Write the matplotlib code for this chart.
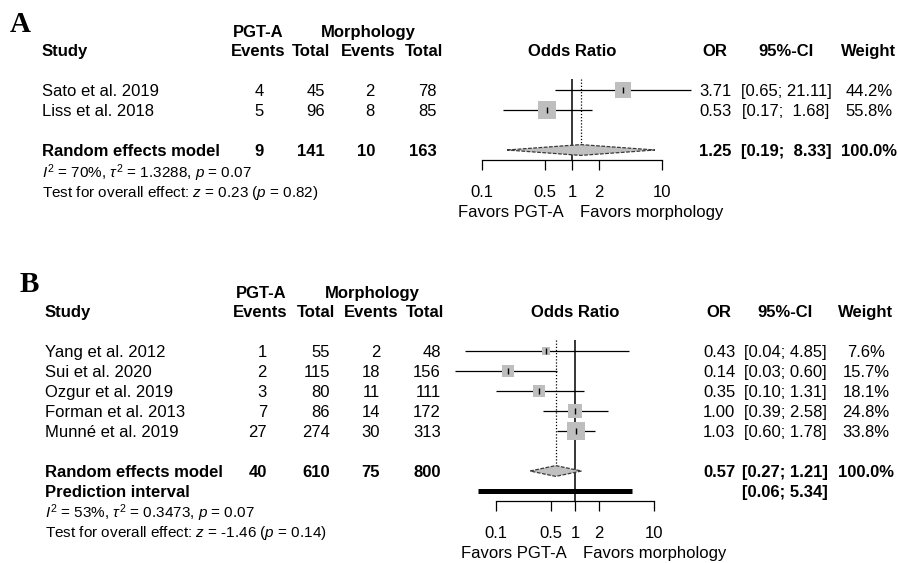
import matplotlib
matplotlib.use("Agg")
import matplotlib.pyplot as plt
from matplotlib import transforms
from matplotlib.patches import Polygon
from matplotlib.ticker import NullLocator

plt.rcParams["font.family"] = ["Liberation Sans", "DejaVu Sans"]
plt.rcParams["mathtext.fontset"] = "custom"
plt.rcParams["mathtext.rm"] = "Liberation Sans"
plt.rcParams["mathtext.it"] = "Liberation Sans:italic"
plt.rcParams["mathtext.bf"] = "Liberation Sans:bold"

# ---------------- Panel A data ----------------
studies_a = ["Sato et al. 2019", "Liss et al. 2018"]
events_pgt_a = [4, 5]
total_pgt_a = [45, 96]
events_mor_a = [2, 8]
total_mor_a = [78, 85]
or_a = [3.71, 0.53]
lower_a = [0.65, 0.17]
upper_a = [21.11, 1.68]
weight_a = [44.2, 55.8]
pooled_a = [1.25, 0.19, 8.33]          # OR, lower, upper
sums_a = [9, 141, 10, 163]
stats_a = ["70%", "1.3288", "0.07", "0.23", "0.82"]   # I2, tau2, p(het), z, p

# ---------------- Panel B data ----------------
studies_b = ["Yang et al. 2012", "Sui et al. 2020", "Ozgur et al. 2019",
             "Forman et al. 2013", "Munné et al. 2019"]
events_pgt_b = [1, 2, 3, 7, 27]
total_pgt_b = [55, 115, 80, 86, 274]
events_mor_b = [2, 18, 11, 14, 30]
total_mor_b = [48, 156, 111, 172, 313]
or_b = [0.43, 0.14, 0.35, 1.00, 1.03]
lower_b = [0.04, 0.03, 0.10, 0.39, 0.60]
upper_b = [4.85, 0.60, 1.31, 2.58, 1.78]
weight_b = [7.6, 15.7, 18.1, 24.8, 33.8]
pooled_b = [0.57, 0.27, 1.21]
prediction_b = [0.06, 5.34]
sums_b = [40, 610, 75, 800]
stats_b = ["53%", "0.3473", "0.07", "-1.46", "0.14"]

tick_values = [0.1, 0.5, 1, 2, 10]
tick_labels = ["0.1", "0.5", "1", "2", "10"]

W, H = 898, 563
fig = plt.figure(figsize=(W / 100, H / 100), dpi=100)
ROW = 20.0   # pixels per table row


def draw_panel(letter, lay, studies, e1, n1, e2, n2, est, lo, hi, wt,
               pooled, sums, stats, pred=None):
    k = len(studies)
    pooled_row = k + 1
    last_row = pooled_row + (1 if pred is not None else 0)
    ybot = last_row + 0.52
    ytop = -0.55
    top_px = lay["row0"] + ytop * ROW
    bot_px = lay["row0"] + ybot * ROW
    ax = fig.add_axes([lay["x01"] / W, 1 - bot_px / H,
                       (lay["x10"] - lay["x01"]) / W, (bot_px - top_px) / H])
    ax.set_xscale("log")
    ax.set_xlim(0.1, 10)
    ax.set_ylim(ybot, ytop)
    ax.patch.set_visible(False)
    for s in ["top", "right", "left"]:
        ax.spines[s].set_visible(False)
    ax.spines["bottom"].set_linewidth(0.9)
    ax.set_yticks([])
    ax.set_xticks(tick_values)
    ax.set_xticklabels(tick_labels)
    ax.xaxis.set_minor_locator(NullLocator())
    ax.tick_params(axis="x", length=7, width=0.9, pad=10.5, labelsize=12)

    def put(xpx, row, s, ha="left", size=12, weight="normal", dy=6):
        tr = transforms.blended_transform_factory(fig.transFigure, ax.transData)
        tr = transforms.offset_copy(tr, fig=fig, x=0, y=-dy, units="dots")
        ax.text(xpx / W, row, s, transform=tr, ha=ha, va="baseline",
                fontsize=size, fontweight=weight, clip_on=False)

    # panel letter
    fig.text(lay["letter"][0] / W, 1 - lay["letter"][1] / H, letter,
             family="Liberation Serif", fontsize=21, fontweight="bold",
             va="baseline")

    # headers
    hr = -2.0
    gr = -2.97
    put(lay["name"], hr, "Study", weight="bold")
    put(lay["grp1"], gr, "PGT-A", ha="center", weight="bold")
    put(lay["grp2"], gr, "Morphology", ha="center", weight="bold")
    for xc, lab in zip(lay["hdr"], ["Events", "Total", "Events", "Total"]):
        put(xc, hr, lab, ha="center", weight="bold")
    tr_or = transforms.offset_copy(ax.transData, fig=fig, x=0, y=-6, units="dots")
    ax.text(1, hr, "Odds Ratio", transform=tr_or, ha="center", va="baseline",
            fontsize=12, fontweight="bold", clip_on=False)
    put(lay["orc"], hr, "OR", ha="center", weight="bold")
    put(lay["cic"], hr, "95%-CI", ha="center", weight="bold")
    put(lay["wtc"], hr, "Weight", ha="center", weight="bold")

    # CI label formatting
    hi_all = list(hi) + [pooled[2]] + ([pred[1]] if pred is not None else [])
    lo_all = list(lo) + [pooled[1]] + ([pred[0]] if pred is not None else [])
    wh = max(len(f"{v:.2f}") for v in hi_all)
    wl = max(len(f"{v:.2f}") for v in lo_all)

    def ci_text(a, b):
        return f"[{a:{wl}.2f}; {b:{wh}.2f}]"

    # study rows
    for i in range(k):
        put(lay["name"], i, studies[i])
        for xr, v in zip(lay["num"], [e1[i], n1[i], e2[i], n2[i]]):
            put(xr, i, str(v), ha="right")
        put(lay["orc"], i, f"{est[i]:.2f}", ha="center")
        put(lay["cic"], i, ci_text(lo[i], hi[i]), ha="center")
        put(lay["wtc"], i, f"{wt[i]:.1f}%", ha="center")

    # pooled row
    put(lay["name"], pooled_row, "Random effects model", weight="bold")
    for xr, v in zip(lay["num"], sums):
        put(xr, pooled_row, str(v), ha="right", weight="bold")
    put(lay["orc"], pooled_row, f"{pooled[0]:.2f}", ha="center", weight="bold")
    put(lay["cic"], pooled_row, ci_text(pooled[1], pooled[2]), ha="center", weight="bold")
    put(lay["wtc"], pooled_row, f"{sum(wt):.1f}%", ha="center", weight="bold")
    if pred is not None:
        put(lay["name"], last_row, "Prediction interval", weight="bold")
        put(lay["cic"], last_row, ci_text(pred[0], pred[1]), ha="center", weight="bold")

    # heterogeneity and overall test
    put(lay["name"], last_row + 1.1,
        rf"$I^2$ = {stats[0]}, $\tau^2$ = {stats[1]}, $p$ = {stats[2]}",
        size=11, dy=5.5)
    put(lay["name"], last_row + 2.05,
        rf"Test for overall effect: $z$ = {stats[3]} ($p$ = {stats[4]})",
        size=11, dy=5.5)

    # reference line and pooled estimate line
    ax.axvline(1, color="black", lw=1.1, zorder=1)
    dh = 0.27
    ax.plot([pooled[0], pooled[0]], [ytop, pooled_row - dh], color="black",
            lw=0.9, ls=(0, (1, 1.5)), zorder=1)

    # study estimates
    wmax = max(wt)
    for i in range(k):
        ax.plot([lo[i], hi[i]], [i, i], color="black", lw=0.9, zorder=2,
                clip_on=False, solid_capstyle="butt")
        side_pt = 17.5 * (wt[i] / wmax) ** 0.5 * 0.72
        ax.scatter([est[i]], [i], s=side_pt ** 2, marker="s", color="#BEBEBE",
                   linewidths=0, zorder=3, clip_on=False)
        ax.plot([est[i]], [i], marker="|", ms=4, mew=1.0, color="black",
                ls="none", zorder=4)

    # pooled diamond
    diamond = Polygon([[pooled[1], pooled_row], [pooled[0], pooled_row - dh],
                       [pooled[2], pooled_row], [pooled[0], pooled_row + dh]],
                      closed=True, facecolor="#C0C0C0", edgecolor="#3a3a3a",
                      lw=0.9, ls=(0, (3, 1.2)), zorder=3, clip_on=False)
    ax.add_patch(diamond)

    # prediction interval
    if pred is not None:
        ax.plot([pred[0], pred[1]], [last_row, last_row], color="black", lw=3.6,
                solid_capstyle="butt", zorder=3, clip_on=False)

    # direction labels
    tr_lab = transforms.blended_transform_factory(ax.transData, ax.transAxes)
    ax.annotate("Favors PGT-A", xy=(1, 0), xycoords=tr_lab, xytext=(-8, -57),
                textcoords="offset pixels", ha="right", va="baseline", fontsize=12)
    ax.annotate("Favors morphology", xy=(1, 0), xycoords=tr_lab, xytext=(8, -57),
                textcoords="offset pixels", ha="left", va="baseline", fontsize=12)
    return ax


layout_a = dict(x01=482, x10=662, row0=90, letter=(10, 32), name=42,
                num=[264, 325, 375, 437], hdr=[258, 311, 368, 424],
                grp1=258, grp2=368, orc=715, cic=786, wtc=869)
layout_b = dict(x01=496, x10=654, row0=351, letter=(20, 292), name=45,
                num=[267, 330, 380, 441], hdr=[260, 316, 371, 424.5],
                grp1=261, grp2=372, orc=719, cic=785, wtc=866)

draw_panel("A", layout_a, studies_a, events_pgt_a, total_pgt_a, events_mor_a,
           total_mor_a, or_a, lower_a, upper_a, weight_a, pooled_a, sums_a, stats_a)
draw_panel("B", layout_b, studies_b, events_pgt_b, total_pgt_b, events_mor_b,
           total_mor_b, or_b, lower_b, upper_b, weight_b, pooled_b, sums_b, stats_b,
           pred=prediction_b)

fig.savefig("out.png", dpi=100)
